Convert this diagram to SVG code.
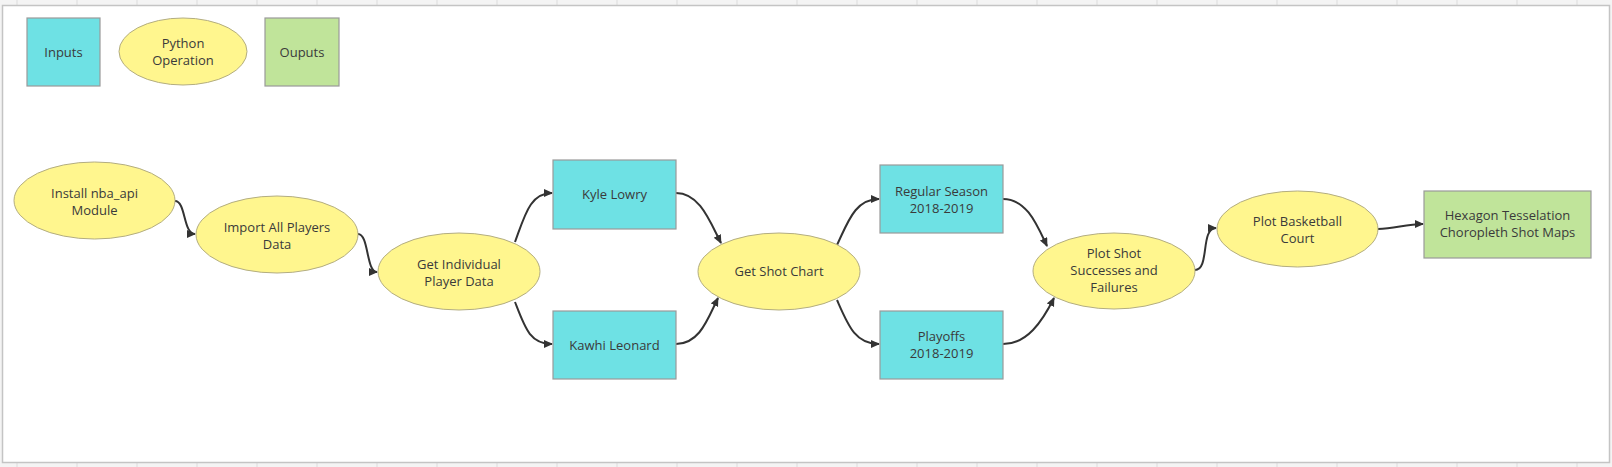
<svg xmlns="http://www.w3.org/2000/svg" width="1612" height="467" viewBox="0 0 1612 467">
<style>
.in{fill:#6ee1e4;stroke:#9a9a9a;stroke-width:1.2}
.op{fill:#fff68e;stroke:#b3ad80;stroke-width:1}
.out{fill:#c0e49a;stroke:#9a9a9a;stroke-width:1.2}
text{font-family:"Open Sans","Noto Sans","Liberation Sans",sans-serif;font-size:13px;fill:#3a3a3a;text-anchor:middle}
.c{fill:none;stroke:#333;stroke-width:2;marker-end:url(#ah)}
.grid{stroke:#dcdcdc;stroke-width:1}
</style>
<defs>
<marker id="ah" markerUnits="userSpaceOnUse" markerWidth="10" markerHeight="10" refX="8" refY="4" orient="auto">
<path d="M0,0 L9,4 L0,8 z" fill="#333"/>
</marker>
</defs>
<rect x="0" y="0" width="1612" height="467" fill="#f4f4f4"/>
<g class="grid">
<path d="M17,0V467M77,0V467M137,0V467M197,0V467M257,0V467M317,0V467M377,0V467M437,0V467M497,0V467M557,0V467M617,0V467M677,0V467M737,0V467M797,0V467M857,0V467M917,0V467M977,0V467M1037,0V467M1097,0V467M1157,0V467M1217,0V467M1277,0V467M1337,0V467M1397,0V467M1457,0V467M1517,0V467M1577,0V467"/>
</g>
<rect x="2.5" y="5.5" width="1607" height="457" fill="#ffffff" stroke="#c4c4c4" stroke-width="1.5"/>
<g id="legend-inputs"><rect class="in" x="27" y="18" width="73" height="68"/><text x="63.5" y="56.5">Inputs</text></g>
<g id="legend-python"><ellipse class="op" cx="183" cy="51.5" rx="64" ry="33.5"/><text x="183" y="48">Python</text><text x="183" y="65">Operation</text></g>
<g id="legend-outputs"><rect class="out" x="265" y="18" width="74" height="68"/><text x="302" y="56.5">Ouputs</text></g>
<g id="connectors">
<path class="c" d="M175,201 C186,201 183,234 195,234"/>
<path class="c" d="M358,234 C369,234 366,272 377,272"/>
<path class="c" d="M515,242 C525,215 530,193 552,193"/>
<path class="c" d="M515,302 C525,328 530,344 552,344"/>
<path class="c" d="M676,193 C700,193 710,222 721,243"/>
<path class="c" d="M676,344 C700,344 708,318 718,298"/>
<path class="c" d="M837,245 C848,222 855,199 879,199"/>
<path class="c" d="M837,300 C848,325 855,344 879,344"/>
<path class="c" d="M1003,199 C1027,199 1037,225 1047,246"/>
<path class="c" d="M1003,344 C1027,344 1042,322 1054,298"/>
<path class="c" d="M1195,270 C1210,270 1200,228 1216,228"/>
<path class="c" d="M1378,229 C1395,229 1405,224 1423,224"/>
</g>
<g id="install"><ellipse class="op" cx="94.5" cy="200.5" rx="80.5" ry="38.5"/><text x="94.5" y="197.5">Install nba_api</text><text x="94.5" y="214.5">Module</text></g>
<g id="import"><ellipse class="op" cx="277" cy="234.5" rx="81" ry="38.5"/><text x="277" y="231.5">Import All Players</text><text x="277" y="248.5">Data</text></g>
<g id="get-individual"><ellipse class="op" cx="459" cy="271.5" rx="81" ry="38.5"/><text x="459" y="268.5">Get Individual</text><text x="459" y="285.5">Player Data</text></g>
<g id="kyle"><rect class="in" x="553" y="160" width="123" height="69"/><text x="614.5" y="199">Kyle Lowry</text></g>
<g id="kawhi"><rect class="in" x="553" y="311" width="123" height="68"/><text x="614.5" y="349.5">Kawhi Leonard</text></g>
<g id="get-shot-chart"><ellipse class="op" cx="779" cy="271.5" rx="81" ry="38.5"/><text x="779" y="276">Get Shot Chart</text></g>
<g id="regular-season"><rect class="in" x="880" y="165" width="123" height="68"/><text x="941.5" y="195.5">Regular Season</text><text x="941.5" y="212.5">2018-2019</text></g>
<g id="playoffs"><rect class="in" x="880" y="311" width="123" height="68"/><text x="941.5" y="341">Playoffs</text><text x="941.5" y="358">2018-2019</text></g>
<g id="plot-shot"><ellipse class="op" cx="1114" cy="271" rx="81" ry="38"/><text x="1114" y="258">Plot Shot</text><text x="1114" y="275">Successes and</text><text x="1114" y="292">Failures</text></g>
<g id="plot-court"><ellipse class="op" cx="1297.5" cy="229" rx="80.5" ry="38"/><text x="1297.5" y="225.5">Plot Basketball</text><text x="1297.5" y="242.5">Court</text></g>
<g id="hexagon"><rect class="out" x="1424" y="191" width="167" height="67"/><text x="1507.5" y="220">Hexagon Tesselation</text><text x="1507.5" y="237">Choropleth Shot Maps</text></g>
</svg>
